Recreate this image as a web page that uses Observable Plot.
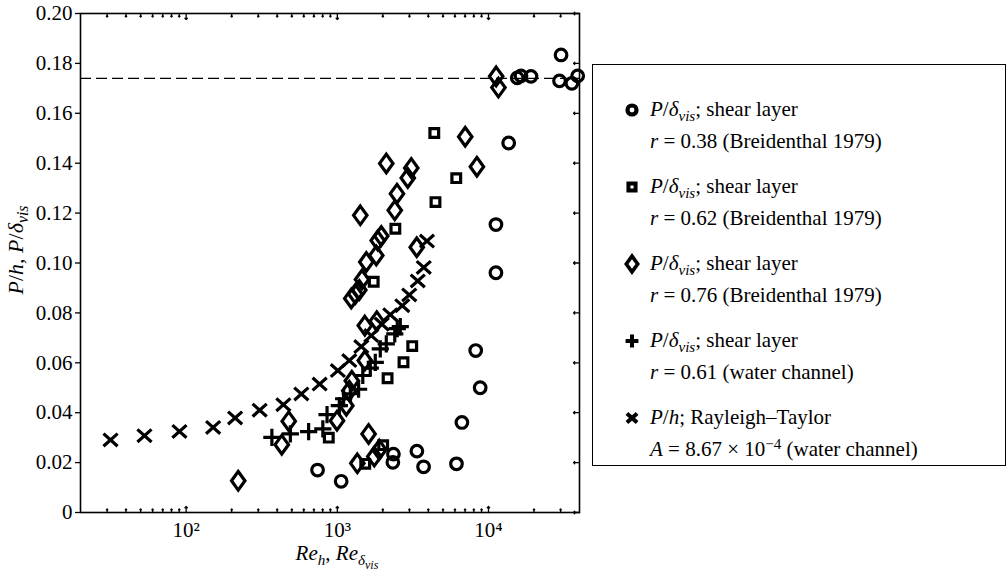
<!DOCTYPE html>
<html><head><meta charset="utf-8">
<script src="https://cdn.jsdelivr.net/npm/d3@7"></script>
<script src="https://cdn.jsdelivr.net/npm/@observablehq/plot@0.6"></script>
<style>
body{margin:0;background:#fff;}
#wrap{position:relative;width:1006px;height:576px;font-family:"Liberation Serif","Tinos","DejaVu Serif",serif;color:#000;overflow:hidden;}
#wrap > svg{position:absolute;left:0;top:0;}
.t{position:absolute;font-size:21px;line-height:21px;white-space:nowrap;}
.s{position:relative;top:0.32em;font-size:0.72em;font-style:italic;}
.sup{position:relative;top:-0.45em;font-size:0.72em;}
#legend{position:absolute;left:592px;top:64px;width:414px;height:402px;box-sizing:border-box;border:1.6px solid #000;}
.lsym{position:absolute;}
</style></head>
<body><div id="wrap"></div>
<script>
// ---- axis ticks ----
const yTicks = [0, 0.02, 0.04, 0.06, 0.08, 0.10, 0.12, 0.14, 0.16, 0.18, 0.20];
const xMajorTicks = [100, 1000, 10000];
const xMajorLabels = ["10²", "10³", "10⁴"];
const xMinorTicks = [30, 40, 50, 60, 70, 80, 90, 200, 300, 400, 500, 600, 700, 800, 900,
  2000, 3000, 4000, 5000, 6000, 7000, 8000, 9000, 20000, 30000];
const plateau = [0.174];

// ---- series: r = 0.38 (circles) ----
const circleRe = [740, 1060, 2350, 2330, 3360, 3720, 6140, 6670, 8810, 8230, 11200, 11200, 13600, 15500, 16400, 19100, 30200, 29500, 35600, 38900];
const circleP  = [0.0170, 0.0125, 0.0234, 0.0201, 0.0246, 0.0183, 0.0195, 0.0361, 0.0500, 0.0649, 0.1154, 0.0961, 0.1481, 0.1742, 0.1750, 0.1748, 0.1834, 0.1730, 0.1720, 0.1750];
// ---- r = 0.62 (squares) ----
const squareRe = [4380, 6120, 4460, 2420, 1740, 3130, 2740, 2150, 878, 2010, 1530];
const squareP  = [0.1521, 0.1340, 0.1244, 0.1137, 0.0925, 0.0667, 0.0602, 0.0538, 0.0300, 0.0270, 0.0195];
// ---- r = 0.76 (diamonds) ----
const diamondRe = [221, 429, 477, 995, 1147, 1610, 1356, 1756, 1896, 1247, 1200, 1520, 1520, 1824, 1237, 1315, 1398, 1456, 1555, 1810, 1850, 1953, 1419, 3353, 2399, 2481, 2924, 3084, 2108, 7015, 8382, 11240, 11640];
const diamondP  = [0.0127, 0.0272, 0.0366, 0.0368, 0.0428, 0.0315, 0.0197, 0.0224, 0.0252, 0.0528, 0.0488, 0.0609, 0.0749, 0.0767, 0.0858, 0.0876, 0.0892, 0.0934, 0.1004, 0.1030, 0.1090, 0.1108, 0.1191, 0.1063, 0.1211, 0.1278, 0.1341, 0.1381, 0.1399, 0.1506, 0.1386, 0.1748, 0.1703];
// ---- r = 0.61 water channel (plus) ----
const plusRe = [369, 489, 646, 802, 855, 1031, 1101, 1219, 1383, 1474, 1652, 1783, 1924, 2108, 2399, 2493, 2609];
const plusP  = [0.0301, 0.0315, 0.0324, 0.0335, 0.0392, 0.0428, 0.0456, 0.0476, 0.0494, 0.0549, 0.0579, 0.0602, 0.0656, 0.0676, 0.0716, 0.0737, 0.0745];
// ---- Rayleigh–Taylor (times) ----
const timesRe = [31.6, 53.0, 90.3, 150.8, 210.8, 306.4, 439.7, 578, 764, 1008, 1200, 1441, 1677, 1968, 2240, 2690, 2991, 3404, 3730, 3917];
const timesP  = [0.0291, 0.0308, 0.0325, 0.0341, 0.0379, 0.0410, 0.0432, 0.0475, 0.0515, 0.0569, 0.0609, 0.0665, 0.0709, 0.0755, 0.0793, 0.0829, 0.0872, 0.0928, 0.0982, 0.1088];

const rows = (xs, ys) => xs.map((x, i) => ({x, y: ys[i]}));

// custom symbols (size = PI r^2)
const rad = size => Math.sqrt(size / Math.PI);
const symCircle = {draw(c, size){ const r = rad(size); c.moveTo(r, 0); c.arc(0, 0, r, 0, 2 * Math.PI); }};
const symSquare = {draw(c, size){ const s = 0.75 * rad(size); c.rect(-s, -s, 2 * s, 2 * s); }};
const symDiamond = {draw(c, size){ const r = rad(size), h = 1.6 * r, w = 1.16 * r;
  c.moveTo(0, -h); c.lineTo(w, 0); c.lineTo(0, h); c.lineTo(-w, 0); c.closePath(); }};
const symPlus = {draw(c, size){ const a = 1.48 * rad(size);
  c.moveTo(-a, 0); c.lineTo(a, 0); c.moveTo(0, -a); c.lineTo(0, a); }};
const symTimes = {draw(c, size){ const r = rad(size), a = 1.22 * r, b = 1.09 * r;
  c.moveTo(-a, -b); c.lineTo(a, b); c.moveTo(-a, b); c.lineTo(a, -b); }};

const SW = 3.2, R = 5.8;
const FONT = '"Liberation Serif", "Tinos", "DejaVu Serif", serif';
const dotOpts = s => ({x: "x", y: "y", symbol: s, r: R, fill: "none", stroke: "black", strokeWidth: SW});

const plot = Plot.plot({
  width: 1006, height: 576,
  marginLeft: 80, marginRight: 427, marginTop: 13, marginBottom: 64,
  x: {type: "log", domain: [20, 40000]},
  y: {domain: [0, 0.2]},
  style: {fontFamily: FONT, fontSize: "21px", background: "transparent", color: "black"},
  marks: [
    Plot.ruleY(plateau, {strokeDasharray: "11,5", strokeWidth: 1.4}),
    Plot.axisY({ticks: yTicks, tickFormat: d => d === 0 ? "0" : d.toFixed(2), tickSize: 5, tickPadding: 3, label: null, strokeWidth: 1.3, fontFamily: FONT}),
    Plot.axisX({ticks: xMajorTicks, tickFormat: d => xMajorLabels[xMajorTicks.indexOf(d)], tickSize: 0, tickPadding: 10, label: null, fontFamily: FONT}),
    // inward ticks: bottom/top/right
    Plot.vector(xMajorTicks, {x: d => d, frameAnchor: "bottom", length: 6, anchor: "start", rotate: 0, strokeWidth: 1.3}),
    Plot.vector(xMinorTicks, {x: d => d, frameAnchor: "bottom", length: 3.5, anchor: "start", rotate: 0, strokeWidth: 1.3}),
    Plot.vector(xMajorTicks, {x: d => d, frameAnchor: "top", length: 6, anchor: "start", rotate: 180, strokeWidth: 1.3}),
    Plot.vector(xMinorTicks, {x: d => d, frameAnchor: "top", length: 3.5, anchor: "start", rotate: 180, strokeWidth: 1.3}),
    Plot.vector(yTicks, {y: d => d, frameAnchor: "right", length: 6, anchor: "start", rotate: 270, strokeWidth: 1.3}),
    Plot.frame({strokeWidth: 1.6}),
    Plot.dot(rows(circleRe, circleP), dotOpts(symCircle)),
    Plot.dot(rows(squareRe, squareP), dotOpts(symSquare)),
    Plot.dot(rows(diamondRe, diamondP), dotOpts(symDiamond)),
    Plot.dot(rows(plusRe, plusP), dotOpts(symPlus)),
    Plot.dot(rows(timesRe, timesP), dotOpts(symTimes))
  ]
});
const wrap = document.getElementById("wrap");
wrap.appendChild(plot);

// axis titles
const yl = document.createElement("div");
yl.className = "t";
yl.style.fontSize = "22px";
yl.style.left = "16px"; yl.style.top = "250px";
yl.style.transform = "translate(-50%,-50%) rotate(-90deg)";
yl.innerHTML = '<i>P</i>/<i>h</i>, <i>P</i>/<i>δ</i><span class="s">vis</span>';
wrap.appendChild(yl);

const xl = document.createElement("div");
xl.className = "t";
xl.style.left = "337px"; xl.style.top = (561 - 17.6) + "px";
xl.style.transform = "translateX(-50%)";
xl.innerHTML = '<i>Re</i><span class="s">h</span>, <i>Re</i><span class="s"><i>δ</i><span class="s" style="font-size:0.8em;top:0.3em">vis</span></span>';
wrap.appendChild(xl);

// legend
const legendSymbols = [symCircle, symSquare, symDiamond, symPlus, symTimes];
const legendLine1 = [
  '<i>P</i>/<i>δ</i><span class="s">vis</span>; shear layer',
  '<i>P</i>/<i>δ</i><span class="s">vis</span>; shear layer',
  '<i>P</i>/<i>δ</i><span class="s">vis</span>; shear layer',
  '<i>P</i>/<i>δ</i><span class="s">vis</span>; shear layer',
  '<i>P</i>/<i>h</i>; Rayleigh–Taylor'
];
const legendLine2 = [
  '<i>r</i> = 0.38 (Breidenthal 1979)',
  '<i>r</i> = 0.62 (Breidenthal 1979)',
  '<i>r</i> = 0.76 (Breidenthal 1979)',
  '<i>r</i> = 0.61 (water channel)',
  '<i>A</i> = 8.67 × 10<span class="sup">−4</span> (water channel)'
];
const lg = document.createElement("div");
lg.id = "legend";
wrap.appendChild(lg);
legendSymbols.forEach((sym, k) => {
  const base1 = 116.7 + k * 77, base2 = base1 + 31.6;
  const a = document.createElement("div"); a.className = "t";
  a.style.left = "650px"; a.style.top = (base1 - 17.6) + "px"; a.innerHTML = legendLine1[k];
  const b = document.createElement("div"); b.className = "t";
  b.style.left = "650px"; b.style.top = (base2 - 17.6) + "px"; b.innerHTML = legendLine2[k];
  wrap.appendChild(a); wrap.appendChild(b);
  const svg = d3.create("svg").attr("width", 26).attr("height", 26).attr("class", "lsym")
    .style("left", (631.7 - 13) + "px").style("top", (base1 - 6.7 - 13) + "px");
  const scale = [0.78, 0.82, 0.85, 0.75, 0.72][k];
  svg.append("path").attr("transform", "translate(13,13)")
    .attr("d", d3.symbol(sym, Math.PI * (R * scale) ** 2)())
    .attr("fill", "none").attr("stroke", "black").attr("stroke-width", [4.2, 4, 3.6, 4, 4][k]);
  wrap.appendChild(svg.node());
});
</script>
</body></html>
